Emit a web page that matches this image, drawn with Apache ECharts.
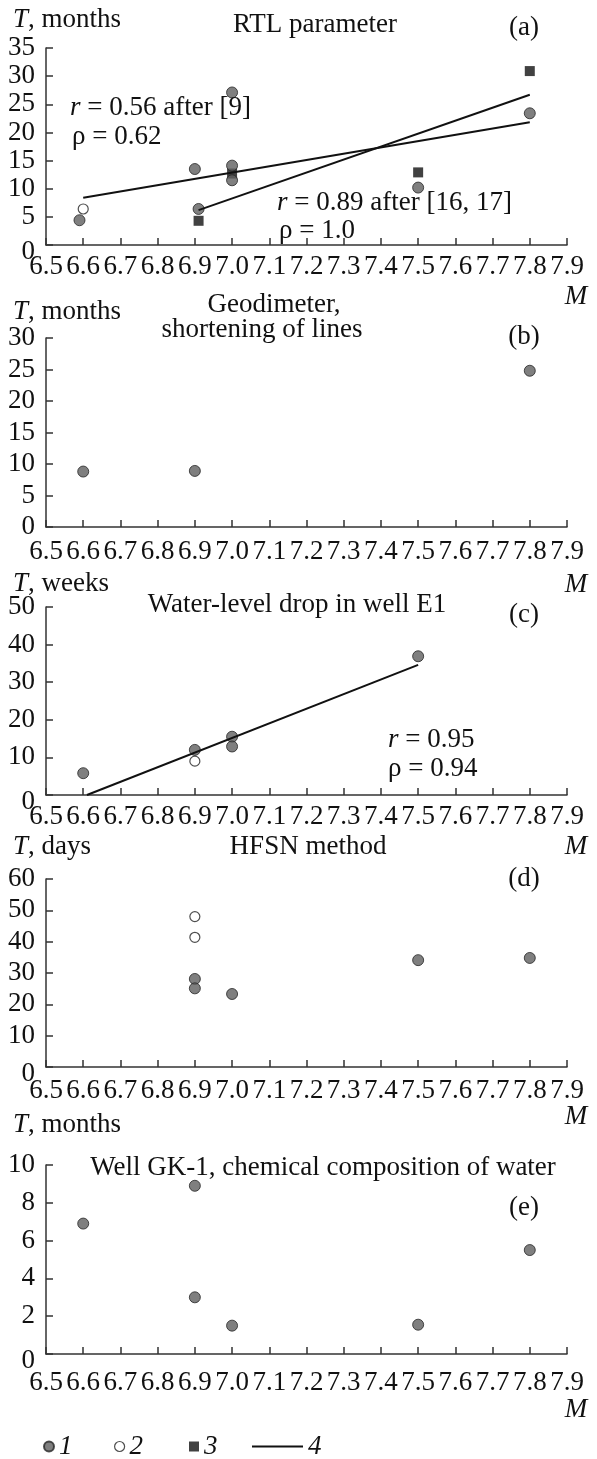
<!DOCTYPE html>
<html>
<head>
<meta charset="utf-8">
<script src="https://cdn.jsdelivr.net/npm/echarts@6.0.0/dist/echarts.min.js"></script>
<style>
  html, body { margin: 0; padding: 0; background: #fff; }
  #chart { width: 597px; height: 1459px; }
</style>
</head>
<body>
<div id="chart"></div>
<script>
// magnitude axis, shared by all panels
var mTicks = [6.5, 7.9, 0.1];

// (a) RTL parameter, T in months
var a_type1 = [[6.59, 4.4], [6.9, 13.5], [6.91, 6.4], [7.0, 27.1], [7.0, 14.1], [7.0, 11.5], [7.5, 10.2], [7.8, 23.4]];
var a_type2 = [[6.6, 6.4]];
var a_type3 = [[6.91, 4.3], [7.0, 12.7], [7.5, 12.9], [7.8, 30.9]];
var a_fit1 = [[6.6, 8.4], [7.8, 21.8]];
var a_fit2 = [[6.91, 6.2], [7.8, 26.7]];

// (b) geodimeter, T in months
var b_type1 = [[6.6, 8.8], [6.9, 8.9], [7.8, 24.8]];

// (c) water level in well E1, T in weeks
var c_type1 = [[6.6, 5.8], [6.9, 12.0], [7.0, 15.5], [7.0, 12.9], [7.5, 36.9]];
var c_type2 = [[6.9, 9.0]];
var c_fit = [[6.61, 0], [7.5, 34.6]];

// (d) HFSN method, T in days
var d_type1 = [[6.9, 28.1], [6.9, 25.1], [7.0, 23.3], [7.5, 34.1], [7.8, 34.8]];
var d_type2 = [[6.9, 48.0], [6.9, 41.4]];

// (e) well GK-1, T in months
var e_type1 = [[6.6, 6.9], [6.9, 8.9], [6.9, 3.0], [7.0, 1.5], [7.5, 1.55], [7.8, 5.5]];

// y axes: max / step
var yMax = [35, 30, 50, 60, 10];
var yStep = [5, 5, 10, 10, 2];

var FONT = 'Liberation Serif';
var FS = 27;
var INK = '#111';
var AXIS = '#333';

var gridTop = [48, 338, 607, 879, 1165];
var gridBottom = [245, 527, 795, 1067, 1354];
var xLabelMargin = [8, 11, 8, 10, 15];
var zeroShift = [true, false, true, true, true];

var chart = echarts.init(document.getElementById('chart'));

var grids = [], xAxes = [], yAxes = [], series = [];

for (var i = 0; i < 5; i++) {
    grids.push({
        left: 46, width: 521,
        top: gridTop[i], height: gridBottom[i] - gridTop[i],
        outerBoundsMode: 'none'
    });
    xAxes.push({
        gridIndex: i, type: 'value',
        min: mTicks[0], max: mTicks[1], interval: mTicks[2],
        axisLine: {lineStyle: {color: AXIS, width: 1.5}},
        axisTick: {inside: true, length: 7, lineStyle: {color: AXIS, width: 1.5}},
        splitLine: {show: false},
        axisLabel: {
            margin: xLabelMargin[i], color: INK, fontFamily: FONT, fontSize: FS,
            formatter: function (v) { return v.toFixed(1); }
        }
    });
    yAxes.push({
        gridIndex: i, type: 'value',
        min: 0, max: yMax[i], interval: yStep[i],
        axisLine: {show: true, lineStyle: {color: AXIS, width: 1.5}},
        axisTick: {show: true, inside: true, length: 7, lineStyle: {color: AXIS, width: 1.5}},
        splitLine: {show: false},
        axisLabel: {
            margin: 11, color: INK, fontFamily: FONT, fontSize: FS,
            formatter: (function (shift) {
                return function (v) { return (v === 0 && shift) ? '{z|0}' : String(v); };
            })(zeroShift[i]),
            rich: {z: {fontFamily: FONT, fontSize: FS, color: INK, padding: [14, 0, 0, 0]}}
        }
    });
}

function dots(idx, data) {
    return {
        name: '1', type: 'scatter', xAxisIndex: idx, yAxisIndex: idx, data: data,
        symbol: 'circle', symbolSize: 11, z: 3,
        itemStyle: {color: '#5f5f5f', borderColor: '#262626', borderWidth: 1}
    };
}
function openDots(idx, data) {
    return {
        name: '2', type: 'scatter', xAxisIndex: idx, yAxisIndex: idx, data: data,
        symbol: 'circle', symbolSize: 10, z: 3,
        itemStyle: {color: '#fff', borderColor: '#222', borderWidth: 1.2}
    };
}
function squares(idx, data) {
    return {
        name: '3', type: 'scatter', xAxisIndex: idx, yAxisIndex: idx, data: data,
        symbol: 'rect', symbolSize: 10, z: 2,
        itemStyle: {color: '#111'}
    };
}
function fit(idx, data) {
    return {
        name: '4', type: 'line', xAxisIndex: idx, yAxisIndex: idx, data: data,
        symbol: 'none', z: 4,
        itemStyle: {color: '#111'},
        lineStyle: {color: '#111', width: 2}
    };
}

series.push(squares(0, a_type3), dots(0, a_type1), openDots(0, a_type2), fit(0, a_fit1), fit(0, a_fit2));
series.push(dots(1, b_type1));
series.push(dots(2, c_type1), openDots(2, c_type2), fit(2, c_fit));
series.push(dots(3, d_type1), openDots(3, d_type2));
series.push(dots(4, e_type1));

var RICH = {
    i: {fontStyle: 'italic', fontFamily: FONT, fontSize: FS, fill: INK, color: INK}
};
function txt(x, y, s, align) {
    return {
        type: 'text', x: x, y: y, z: 10,
        style: {
            text: s, fill: INK, fontFamily: FONT, fontSize: FS,
            align: align, verticalAlign: 'middle',
            textAlign: align, textVerticalAlign: 'middle',
            rich: RICH
        }
    };
}

var texts = [
    // (a)
    txt(13, 20, '{i|T}, months', 'left'),
    txt(315, 25, 'RTL parameter', 'center'),
    txt(524, 28, '(a)', 'center'),
    txt(70, 108, '{i|r} = 0.56 after [9]', 'left'),
    txt(72, 137, 'ρ = 0.62', 'left'),
    txt(277, 203, '{i|r} = 0.89 after [16, 17]', 'left'),
    txt(279, 231, 'ρ = 1.0', 'left'),
    txt(576, 297, '{i|M}', 'center'),
    // (b)
    txt(13, 312, '{i|T}, months', 'left'),
    txt(274, 305, 'Geodimeter,', 'center'),
    txt(262, 330, 'shortening of lines', 'center'),
    txt(524, 337, '(b)', 'center'),
    txt(576, 585, '{i|M}', 'center'),
    // (c)
    txt(13, 584, '{i|T}, weeks', 'left'),
    txt(297, 605, 'Water-level drop in well E1', 'center'),
    txt(524, 615, '(c)', 'center'),
    txt(388, 740, '{i|r} = 0.95', 'left'),
    txt(388, 769, 'ρ = 0.94', 'left'),
    txt(576, 847, '{i|M}', 'center'),
    // (d)
    txt(13, 847, '{i|T}, days', 'left'),
    txt(308, 847, 'HFSN method', 'center'),
    txt(524, 879, '(d)', 'center'),
    txt(576, 1117, '{i|M}', 'center'),
    // (e)
    txt(13, 1125, '{i|T}, months', 'left'),
    txt(323, 1168, 'Well GK-1, chemical composition of water', 'center'),
    txt(524, 1208, '(e)', 'center'),
    txt(576, 1410, '{i|M}', 'center')
];

function legendItem(name, left, w, h, extra) {
    var item = {name: name};
    for (var k in extra) item[k] = extra[k];
    return {
        left: left, top: 1433, padding: 0, itemGap: 0,
        itemWidth: w, itemHeight: h, selectedMode: false,
        textStyle: {fontFamily: FONT, fontSize: FS, fontStyle: 'italic', color: INK},
        data: [item]
    };
}

var option = {
    animation: false,
    backgroundColor: '#fff',
    grid: grids,
    xAxis: xAxes,
    yAxis: yAxes,
    series: series,
    graphic: texts,
    legend: [
        legendItem('1', 43, 10, 10, {icon: 'circle'}),
        legendItem('2', 114, 10, 10, {icon: 'circle', itemStyle: {color: '#fff', borderColor: '#222', borderWidth: 1.2}}),
        legendItem('3', 189, 10, 10, {icon: 'rect'}),
        legendItem('4', 252, 51, 2, {icon: 'rect', itemStyle: {color: '#111', borderWidth: 0}})
    ]
};

chart.setOption(option);
</script>
</body>
</html>
